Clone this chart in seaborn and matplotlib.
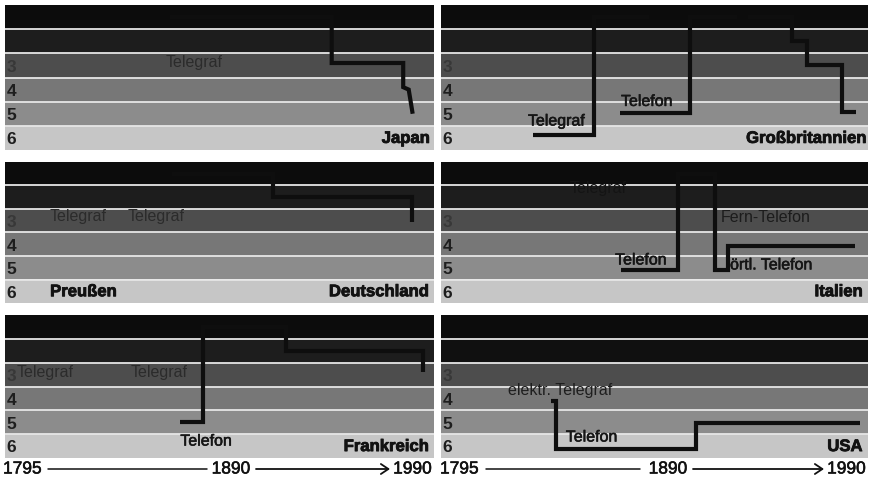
import matplotlib
matplotlib.use("Agg")
import matplotlib.pyplot as plt
import matplotlib.patheffects as pe
from matplotlib.patches import FancyArrowPatch
from matplotlib.lines import Line2D
import seaborn as sns

sns.set_theme(style="white")
plt.rcParams['font.family'] = ['Liberation Sans', 'DejaVu Sans']

# ---------------- data ----------------
band_levels = [1, 2, 3, 4, 5, 6]
shown_level_labels = ["3", "4", "5", "6"]
axis_years = ["1795", "1890", "1990"]

# Japan
japan_years = [1870, 1943.5, 1943.5, 1976.0, 1976.0, 1978.5, 1980.3]
japan_levels = [1.0, 1.0, 2.9, 2.9, 3.9, 4.0, 5.0]

# Grossbritannien
gb_telegraf_years = [1837.0, 1865.0, 1865.0, 1890.0]
gb_telegraf_levels = [5.88, 5.88, 1.0, 1.0]
gb_telefon_years = [1876.7, 1908.7, 1908.7, 1930.0]
gb_telefon_levels = [4.98, 4.98, 1.0, 1.0]
gb_late_years = [1935.0, 1955.3, 1955.3, 1962.0, 1962.0, 1978.0, 1978.0, 1984.5]
gb_late_levels = [1.0, 1.0, 2.0, 2.0, 2.98, 2.98, 4.93, 4.93]

# Preussen / Deutschland
de_years = [1871.0, 1916.7, 1916.7, 1980.0, 1980.0]
de_levels = [1.0, 1.0, 2.0, 2.0, 3.05]

# Italien
it_years = [1877.2, 1903.2, 1903.2, 1920.0, 1920.0, 1926.0, 1926.0, 1984.0]
it_levels = [5.1, 5.1, 1.0, 1.0, 5.1, 5.1, 4.06, 4.06]

# Frankreich
fr_years = [1874.7, 1884.8, 1884.8, 1922.5, 1922.5, 1985.0, 1985.0]
fr_levels = [4.99, 4.99, 1.0, 1.0, 2.0, 2.0, 2.9]

# USA
usa_years = [1845.2, 1847.5, 1847.5, 1911.4, 1911.4, 1986.3]
usa_levels = [4.11, 4.11, 6.12, 6.12, 5.03, 5.03]

# ---------------- layout / style ----------------
W, H = 877, 486
band_colors = ['#0c0c0c', '#1d1d1d', '#4d4d4d', '#777777', '#8c8c8c', '#c6c6c6']
line_color = '#0e0e0e'

fig = plt.figure(figsize=(W / 100, H / 100), dpi=100)
fig.patch.set_facecolor('white')


def heavy(color, w=0.4):
    return [pe.withStroke(linewidth=w, foreground=color)]


def rect(x0, y0, x1, y1):
    return [x0 / W, 1 - y1 / H, (x1 - x0) / W, (y1 - y0) / H]


cols = [(5, 434), (441, 868)]
rows = [(5, 150), (162, 303), (315, 458)]


def make_panel(col, row, colors=band_colors):
    ax = fig.add_axes(rect(cols[col][0], rows[row][0], cols[col][1], rows[row][1]))
    for lev, c in zip(band_levels, colors):
        ax.axhspan(lev - 0.5, lev + 0.5, color=c, lw=0, zorder=0)
    for lev in band_levels[:-1]:
        ax.axhline(lev + 0.5, color='#e6e6e6', lw=1.3, zorder=1)
    for lab in shown_level_labels:
        col_ = '#383838' if lab == "3" else '#1e1e1e'
        ax.text(0.004, int(lab) + 0.08, lab, transform=ax.get_yaxis_transform(),
                ha='left', va='center', fontsize=12.5, fontweight='bold',
                color=col_, zorder=4)
    ax.set_xlim(1795, 1990)
    ax.set_ylim(6.5, 0.5)
    ax.set_axis_off()
    return ax


def draw(ax, xs, ys):
    sns.lineplot(x=xs, y=ys, sort=False, estimator=None, ax=ax, color=line_color,
                 lw=3.0, zorder=3, solid_joinstyle='miter', solid_capstyle='butt')


def label(ax, x, y, s, color='#151515', stroke=True):
    ax.text(x, y, s, ha='left', va='center', fontsize=11.5, color=color, zorder=5,
            path_effects=heavy(color) if stroke else None)


def country(ax, s, x=0.99, ha='right', transform=True):
    ax.text(x, 6.02, s, transform=ax.get_yaxis_transform() if transform else ax.transData,
            ha=ha, va='center', fontsize=12, fontweight='bold', color='#121212',
            zorder=5, path_effects=heavy('#121212', 0.6))


# Japan
ax = make_panel(0, 0)
draw(ax, japan_years, japan_levels)
label(ax, 1867.9, 2.86, "Telegraf", color='#2b2b2b', stroke=False)
country(ax, "Japan")

# Grossbritannien
ax = make_panel(1, 0)
draw(ax, gb_telegraf_years, gb_telegraf_levels)
draw(ax, gb_telefon_years, gb_telefon_levels)
draw(ax, gb_late_years, gb_late_levels)
label(ax, 1834.7, 5.3, "Telegraf")
label(ax, 1877.2, 4.49, "Telefon")
country(ax, "Großbritannien", x=0.995)

# Preussen / Deutschland
ax = make_panel(0, 1)
draw(ax, de_years, de_levels)
label(ax, 1815.5, 2.84, "Telegraf", color='#2b2b2b', stroke=False)
label(ax, 1850.6, 2.84, "Telegraf", color='#2b2b2b', stroke=False)
country(ax, "Preußen", x=1815.5, ha='left', transform=False)
country(ax, "Deutschland", x=0.987)

# Italien
ax = make_panel(1, 1)
draw(ax, it_years, it_levels)
label(ax, 1853.9, 1.61, "Telegraf", color='#141414', stroke=False)
label(ax, 1874.5, 4.67, "Telefon")
label(ax, 1922.9, 2.88, "Fern-Telefon", color='#1c1c1c', stroke=False)
label(ax, 1927.0, 4.88, "örtl. Telefon")
country(ax, "Italien", x=0.987)

# Frankreich
ax = make_panel(0, 2)
draw(ax, fr_years, fr_levels)
label(ax, 1800.5, 2.93, "Telegraf", color='#2b2b2b', stroke=False)
label(ax, 1852.0, 2.93, "Telegraf", color='#2b2b2b', stroke=False)
label(ax, 1874.7, 5.79, "Telefon")
country(ax, "Frankreich", x=0.987)

# USA
usa_colors = ['#0c0c0c', '#101010'] + band_colors[2:]
ax = make_panel(1, 2, colors=usa_colors)
draw(ax, usa_years, usa_levels)
label(ax, 1825.6, 3.65, "elektr. Telegraf", color='#1e1e1e', stroke=False)
label(ax, 1852.0, 5.62, "Telefon")
country(ax, "USA", x=0.987)

# ---------------- time axis under each column ----------------
ty = 1 - 469 / H
axis_specs = [
    # (x_1795_left, line1 start, line1 end, x_1890_center, arrow start, arrow end, x_1990_right)
    (3, 48, 207, 231, 256, 390, 432),
    (440, 486, 640, 668, 693, 824, 866),
]
for x_a, l1s, l1e, x_m, a_s, a_e, x_b in axis_specs:
    for xx, s, ha in ((x_a, axis_years[0], 'left'), (x_m, axis_years[1], 'center'),
                      (x_b, axis_years[2], 'right')):
        fig.text(xx / W, ty, s, ha=ha, va='center', fontsize=12.5, color='#111111',
                 path_effects=heavy('#111111', 0.4))
    fig.add_artist(Line2D([l1s / W, l1e / W], [ty, ty], transform=fig.transFigure,
                          color='#111111', lw=1.1))
    fig.add_artist(FancyArrowPatch((a_s / W, ty), (a_e / W, ty), transform=fig.transFigure,
                                   arrowstyle='->,head_length=0.45,head_width=0.3',
                                   mutation_scale=12, color='#111111', lw=1.3,
                                   shrinkA=0, shrinkB=0))

fig.savefig("out.png", dpi=100, facecolor='white')
